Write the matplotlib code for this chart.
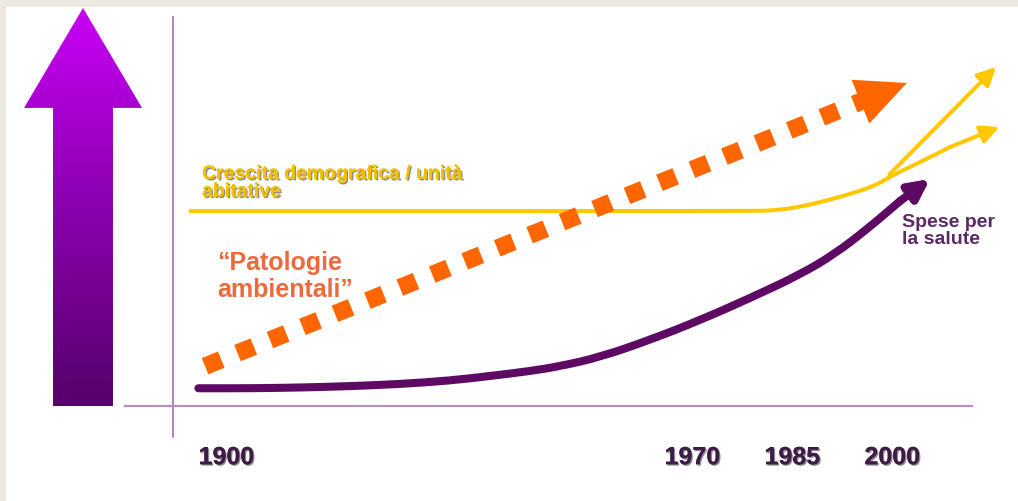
import numpy as np
import matplotlib
matplotlib.use('Agg')
import matplotlib.pyplot as plt
import matplotlib.patheffects as pe
from matplotlib.patches import Polygon, PathPatch
from matplotlib.path import Path
from matplotlib.colors import LinearSegmentedColormap

plt.rcParams['font.family'] = ['Liberation Sans', 'DejaVu Sans']

# years on the x axis, a loose "growth index" on the y axis
year_ticks = [1900, 1970, 1985, 2000]

# Spese per la salute
spese_years = [1895.8, 1903.6, 1911.1, 1918.6, 1926.1, 1933.6, 1939.6, 1945.6, 1950.1,
               1956.1, 1963.6, 1971.2, 1978.7, 1986.2, 1991.4, 1996.2, 2001.2, 2005.7]
spese_vals = [5.1, 5.1, 5.3, 5.7, 6.3, 7.3, 8.6, 10.0, 11.4,
              14.0, 18.9, 24.6, 30.9, 37.6, 43.5, 50.5, 58.6, 64.9]

# Crescita demografica / unita abitative (main branch + upper branch)
cresc_years = [1894.6, 1978.7, 1982.4, 1986.2, 1989.9, 1993.7, 1997.4, 2000.1, 2004.2, 2008.7, 2016.1]
cresc_vals = [55.7, 55.7, 55.9, 56.9, 58.6, 60.6, 62.9, 66.0, 69.7, 74.0, 79.7]
cresc_up_years = [1999.6, 2015.6]
cresc_up_vals = [66.2, 96.9]

# Patologie ambientali (straight dashed trend)
pato_years = [1896.8, 2002.2]
pato_vals = [11.4, 92.3]

purple = '#5e0a64'
yellow = '#ffc800'
orange = '#ff6600'


def smooth_line(ax, xs, ys, **kw):
    # quadratic bezier through the midpoints, read points used as control points
    pts = list(zip(xs, ys))
    verts = [pts[0], ((pts[0][0] + pts[1][0]) / 2, (pts[0][1] + pts[1][1]) / 2)]
    codes = [Path.MOVETO, Path.LINETO]
    for i in range(1, len(pts) - 1):
        mid = ((pts[i][0] + pts[i + 1][0]) / 2, (pts[i][1] + pts[i + 1][1]) / 2)
        verts += [pts[i], mid]
        codes += [Path.CURVE3, Path.CURVE3]
    verts.append(pts[-1])
    codes.append(Path.LINETO)
    ax.add_patch(PathPatch(Path(verts, codes), fill=False, capstyle='round', **kw))


fig = plt.figure(figsize=(10.18, 5.01), dpi=100, facecolor='#ece9e0')
ax = fig.add_axes([6 / 1018, 0, 1012 / 1018, 494 / 501])
ax.set_facecolor('white')
ax.set_xlim(1866.9, 2018.9)
ax.set_ylim(-27.1, 114.0)
ax.axis('off')
ax.add_patch(plt.Rectangle((0, 0), 1, 1, transform=ax.transAxes, color='white', zorder=0))

# crossing axis lines
ax.plot([1892.0, 1892.0], [-8.9, 111.1], color='#a070a8', lw=1.2)
ax.plot([1884.8, 2012.0], [0, 0], color='#bb8cc2', lw=1.6)

# orange dashed arrow
x0, y0 = pato_years[0], pato_vals[0]
x1, y1 = pato_years[1], pato_vals[1]
f = 0.955
ax.plot([x0, x0 + f * (x1 - x0)], [y0, y0 + f * (y1 - y0)], color=orange, lw=12.6,
        ls=(0, (1, 1)), dash_capstyle='butt', zorder=3)
ax.annotate('', xy=(x1, y1), xytext=(x0, y0),
            arrowprops=dict(arrowstyle='-|>,head_length=36,head_width=17', lw=0,
                            color=orange, mutation_scale=1, shrinkA=0, shrinkB=0), zorder=3)

# yellow lines
smooth_line(ax, cresc_years[:-1], cresc_vals[:-1], edgecolor=yellow, lw=2.9, zorder=2)
ax.annotate('', xy=(cresc_years[-1], cresc_vals[-1]), xytext=(cresc_years[-2], cresc_vals[-2]),
            arrowprops=dict(arrowstyle='-|>,head_length=11,head_width=5.5', lw=2.9,
                            color=yellow, mutation_scale=1, shrinkA=0, shrinkB=0), zorder=2)
ax.annotate('', xy=(cresc_up_years[1], cresc_up_vals[1]), xytext=(cresc_up_years[0], cresc_up_vals[0]),
            arrowprops=dict(arrowstyle='-|>,head_length=11,head_width=5.5', lw=2.9,
                            color=yellow, mutation_scale=1, shrinkA=0, shrinkB=0), zorder=2)

# purple curve
smooth_line(ax, spese_years[:-1], spese_vals[:-1], edgecolor=purple, lw=5.8, zorder=4)
ax.annotate('', xy=(spese_years[-1], spese_vals[-1]), xytext=(spese_years[-2], spese_vals[-2]),
            arrowprops=dict(arrowstyle='-|>,head_length=12,head_width=6', lw=5.8,
                            color=purple, mutation_scale=1, shrinkA=0, shrinkB=0), zorder=4)

shadow = [pe.withSimplePatchShadow(offset=(1, -1), shadow_rgbFace='#000000', alpha=0.45), pe.Normal()]

ax.text(1896.35, 68.6, 'Crescita demografica / unità\nabitative', color='#f2c000',
        fontsize=14, fontweight='bold', va='top', ha='left', linespacing=1.05,
        path_effects=shadow, zorder=5)
ax.text(1898.6, 44.2, '\u201cPatologie\nambientali\u201d', color='#ec6a3c',
        fontsize=18, fontweight='bold', va='top', ha='left', linespacing=1.15, zorder=5)
ax.text(2001.5, 55.0, 'Spese per\nla salute', color='#5a2a64',
        fontsize=14, fontweight='bold', va='top', ha='left', linespacing=1.05, zorder=5)

for yr in year_ticks:
    ax.text(yr, -16.6, str(yr), color='#3d1c45', fontsize=18, fontweight='bold',
            ha='center', va='baseline', path_effects=shadow)

# big gradient arrow on the left
aax = fig.add_axes([24 / 1018, 95 / 501, 118 / 1018, 398 / 501])
aax.set_xlim(0, 1)
aax.set_ylim(0, 1)
aax.axis('off')
shape = Polygon([(0.246, 0), (0.754, 0), (0.754, 0.749), (1, 0.749), (0.5, 1),
                 (0, 0.749), (0.246, 0.749)], closed=True, transform=aax.transData,
                facecolor='none', edgecolor='none')
aax.add_patch(shape)
cmap = LinearSegmentedColormap.from_list('viola', ['#56006a', '#8a00ad', '#c800f6'])
grad = np.linspace(0, 1, 256).reshape(-1, 1)
im = aax.imshow(grad, extent=[0, 1, 0, 1], origin='lower', aspect='auto', cmap=cmap)
im.set_clip_path(shape)

fig.savefig('out.png', dpi=100, facecolor=fig.get_facecolor())
